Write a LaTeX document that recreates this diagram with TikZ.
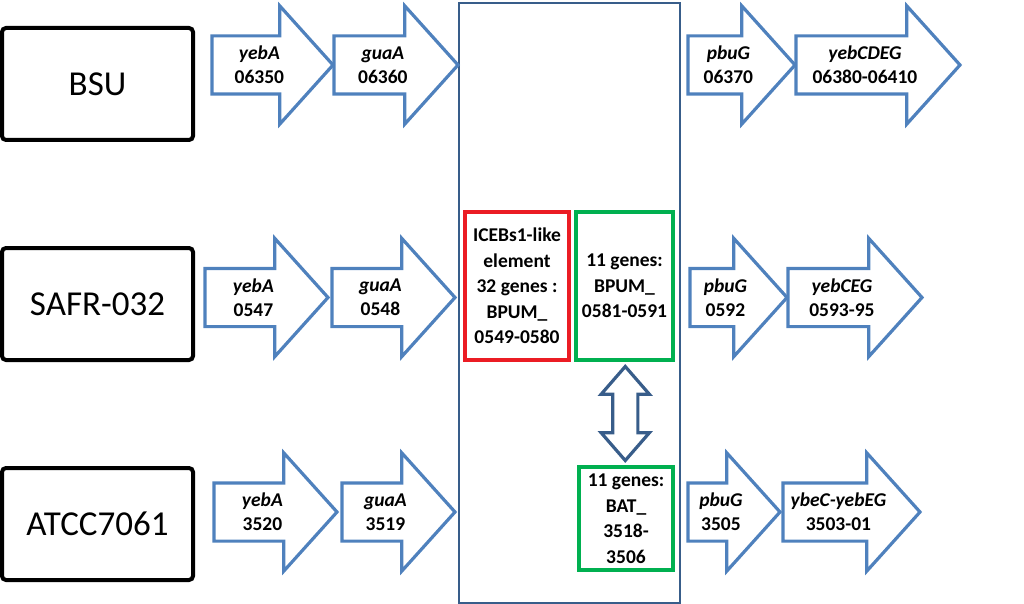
\documentclass[tikz,border=0pt]{standalone}
\usepackage{fontspec}
\setmainfont{Carlito}
\usetikzlibrary{calc}
\usetikzlibrary{positioning}
\usetikzlibrary{shapes.arrows}
\definecolor{geneblue}{RGB}{79,129,189}
\definecolor{frameblue}{RGB}{56,93,138}
\definecolor{icered}{RGB}{235,28,36}
\definecolor{bpumgreen}{RGB}{0,176,80}
\tikzset{strain/.style={draw=black,
                        line width=4pt,
                        rounded corners=4pt,
                        outer sep=0pt,
                        minimum width=191pt,
                        minimum height=112pt,
                        font=\fontsize{35}{42}\selectfont
                        },
        gene/.style={single arrow,
                        draw=geneblue,
                        line width=3.2pt,
                        inner xsep=0pt,
                        inner ysep=27.5pt,
                        outer sep=0pt,
                        minimum width=115pt,
                        single arrow head extend=30pt,
                        single arrow tip angle=96,
                        anchor=tail
        },
        genetext/.style={align=center,
                        inner sep=0pt,
                        font=\bfseries\fontsize{19.5}{24}\selectfont
        },
        region/.style={line width=3.2pt,
                        outer sep=0pt,
                        inner sep=0pt,
                        align=center,
                        font=\bfseries\fontsize{19.5}{25.5}\selectfont
        },
}

\begin{document}
\begin{tikzpicture}
    [x=1pt,y=-1pt]
    \useasboundingbox (0,0) rectangle (1024,604);

    % STRAINS
    \node[strain] (bsu) at (97.5,84) {BSU};
    \node[strain, below=108pt of bsu] (safr) {SAFR-032};
    \node[strain, below=108pt of safr] (atcc) {ATCC7061};

    % INSERTION REGION
    \node[draw=frameblue, line width=2.2pt, minimum width=221pt, minimum height=600pt,
          anchor=north west] (element) at (458,2) {};

    \node[region, draw=icered, minimum width=104pt, minimum height=148pt,
          anchor=north west] (ice) at (465,212)
          {ICEBs1-like\\element\\32 genes :\\BPUM\_\\0549-0580};
    \node[region, draw=bpumgreen, minimum width=97pt, minimum height=148pt,
          right=7pt of ice] (bpum) {11 genes:\\BPUM\_\\0581-0591};
    \node[region, draw=bpumgreen, minimum width=94pt, minimum height=103pt,
          below left=107pt and 0pt of bpum.south east] (bat) {11 genes:\\BAT\_\\3518-\\3506};

    \node[double arrow, draw=frameblue, line width=3.2pt, rotate=90,
          inner xsep=0pt, inner ysep=11pt, outer sep=0pt,
          minimum height=94pt, minimum width=45pt,
          double arrow head extend=11.5pt, double arrow tip angle=82]
          (swap) at ($(bpum.south)!0.5!(bat.north)$) {};

    % BSU
    \node[gene, minimum height=121pt,
          label={[genetext]center:{\textit{yebA}\\06350}}] (bsuA) at (212,65) {};
    \node[gene, minimum height=124pt,
          label={[genetext]center:{\textit{guaA}\\06360}}] (bsuB) at ([xshift=1pt]bsuA.tip) {};
    \node[gene, minimum height=107pt,
          label={[genetext]center:{\textit{pbuG}\\06370}}] (bsuC) at (688,65) {};
    \node[gene, minimum height=164pt,
          label={[genetext]center:{\textit{yebCDEG}\\06380-06410}}] (bsuD) at ([xshift=1pt]bsuC.tip) {};

    % SAFR-032
    \node[gene, minimum height=123pt,
          label={[genetext]center:{\textit{yebA}\\0547}}] (safrA) at (205,297.5) {};
    \node[gene, minimum height=123pt,
          label={[genetext]center:{\textit{guaA}\\0548}}] (safrB) at ([xshift=4pt]safrA.tip) {};
    \node[gene, minimum height=97pt,
          label={[genetext]center:{\textit{pbuG}\\0592}}] (safrC) at (690,297.5) {};
    \node[gene, minimum height=134pt,
          label={[genetext]center:{\textit{yebCEG}\\0593-95}}] (safrD) at ([xshift=1pt]safrC.tip) {};

    % ATCC7061
    \node[gene, minimum height=123pt,
          label={[genetext]center:{\textit{yebA}\\3520}}] (atccA) at (214,512) {};
    \node[gene, minimum height=113pt,
          label={[genetext]center:{\textit{guaA}\\3519}}] (atccB) at ([xshift=5pt]atccA.tip) {};
    \node[gene, minimum height=92pt,
          label={[genetext]center:{\textit{pbuG}\\3505}}] (atccC) at (688,512) {};
    \node[gene, minimum height=137pt,
          label={[genetext]center:{\textit{ybeC-yebEG}\\3503-01}}] (atccD) at ([xshift=3pt]atccC.tip) {};

\end{tikzpicture}
\end{document}
